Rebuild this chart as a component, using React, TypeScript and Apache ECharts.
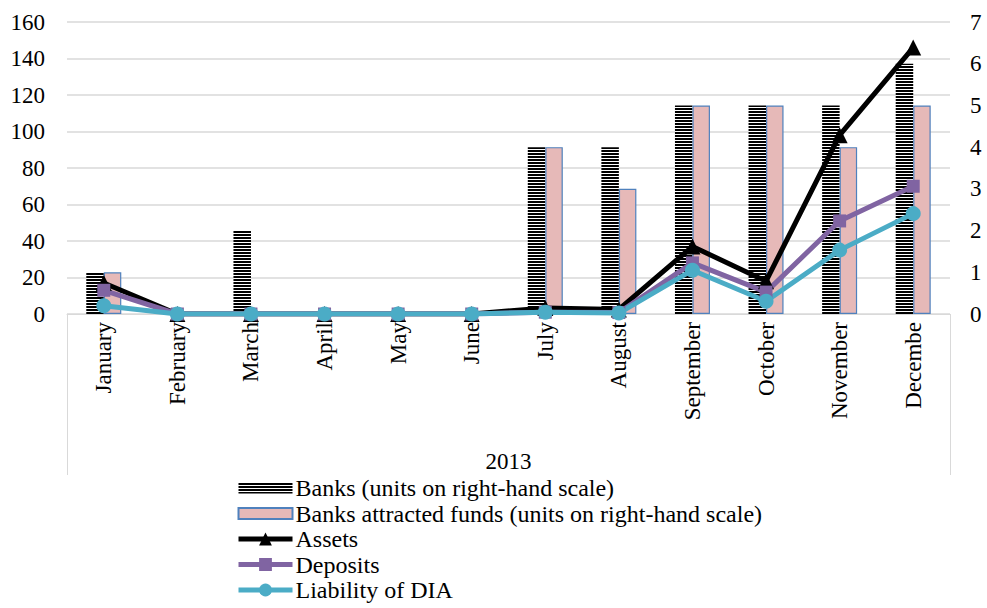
import React, { useEffect, useRef } from "react";
import * as echarts from "echarts";

const months = ["January", "February", "March", "April", "May", "June", "July", "August", "September", "October", "November", "Decembe"];
const yearLabel = ["2013"];
const banks = [1, 0, 2, 0, 0, 0, 4, 4, 5, 5, 5, 6];
const attractedFunds = [1, 0, 0, 0, 0, 0, 4, 3, 5, 5, 4, 5];
const assets = [17, 0, 0, 0, 0, 0, 3.3, 2.5, 37, 18, 98, 146];
const deposits = [13, 0, 0, 0, 0, 0, 1, 0.8, 28, 12, 51, 70];
const liabilityDIA = [4.5, 0, 0, 0, 0, 0, 1, 0.5, 24, 7, 35, 55];

const FONT = "Liberation Serif";
const BAR_ICON = "path://M0,0M0,2.5L55,2.5L55,13.5L0,13.5ZM55,16";

function makeHatch() {
  const c = document.createElement("canvas");
  c.width = 6;
  c.height = 3;
  const ctx = c.getContext("2d")!;
  ctx.fillStyle = "#ffffff";
  ctx.fillRect(0, 0, 6, 3);
  ctx.fillStyle = "#000000";
  ctx.fillRect(0, 0, 6, 2);
  return c;
}

export default function App() {
  const ref = useRef<HTMLDivElement>(null);
  useEffect(() => {
    if (!ref.current) return;
    const chart = echarts.init(ref.current, undefined, { renderer: "svg" });
    const hatch = makeHatch();
    chart.setOption({
      animation: false,
      backgroundColor: "#ffffff",
      textStyle: { fontFamily: FONT, color: "#000" },
      grid: { left: 67, right: 37, top: 22, bottom: 294, containLabel: false },
      legend: {
        orient: "vertical",
        left: 236,
        top: 476,
        height: 132,
        padding: 0,
        itemWidth: 54,
        itemHeight: 16,
        itemGap: 1.5,
        lineStyle: { width: 5 },
        textStyle: { fontFamily: FONT, fontSize: 24, color: "#000", lineHeight: 24, padding: [0, 0, 0, -2] },
        data: [
          { name: "Banks (units on right-hand scale)", icon: BAR_ICON },
          { name: "Banks attracted funds (units on right-hand scale)", icon: BAR_ICON },
          { name: "Assets" },
          { name: "Deposits" },
          { name: "Liability of DIA" },
        ],
      },
      xAxis: [
        {
          type: "category",
          data: months,
          boundaryGap: true,
          axisLine: { show: true, lineStyle: { color: "#d9d9d9", width: 1 } },
          axisTick: { show: false },
          axisLabel: { rotate: 90, margin: 8, fontSize: 23, color: "#000", fontFamily: FONT, interval: 0 },
        },
        {
          type: "category",
          data: yearLabel,
          position: "bottom",
          boundaryGap: true,
          axisLine: { show: false },
          axisTick: { show: true, length: 161, lineStyle: { color: "#d9d9d9", width: 1 } },
          axisLabel: { margin: 136, fontSize: 23, color: "#000", fontFamily: FONT },
        },
      ],
      yAxis: [
        {
          type: "value",
          min: 0,
          max: 160,
          interval: 20,
          axisLine: { show: false },
          axisTick: { show: false },
          splitLine: { lineStyle: { color: "#d9d9d9", width: 1.5 } },
          axisLabel: { margin: 22, fontSize: 23, color: "#000", fontFamily: FONT },
        },
        {
          type: "value",
          min: 0,
          max: 7,
          interval: 1,
          position: "right",
          axisLine: { show: false },
          axisTick: { show: false },
          splitLine: { show: false },
          axisLabel: { margin: 20, fontSize: 23, color: "#000", fontFamily: FONT },
        },
      ],
      series: [
        {
          name: "Banks (units on right-hand scale)",
          type: "bar",
          xAxisIndex: 0,
          yAxisIndex: 1,
          data: banks,
          barWidth: 17.5,
          barGap: "0%",
          itemStyle: { color: { image: hatch, repeat: "repeat" } },
        },
        {
          name: "Banks attracted funds (units on right-hand scale)",
          type: "bar",
          xAxisIndex: 0,
          yAxisIndex: 1,
          data: attractedFunds,
          barWidth: 17.5,
          barGap: "0%",
          itemStyle: { color: "#e6b9b8", borderColor: "#4f81bd", borderWidth: 1.2 },
        },
        {
          name: "Assets",
          type: "line",
          xAxisIndex: 0,
          yAxisIndex: 0,
          data: assets,
          symbol: "triangle",
          symbolSize: 16,
          lineStyle: { color: "#000000", width: 5 },
          itemStyle: { color: "#000000" },
        },
        {
          name: "Deposits",
          type: "line",
          xAxisIndex: 0,
          yAxisIndex: 0,
          data: deposits,
          symbol: "rect",
          symbolSize: 13,
          lineStyle: { color: "#8064a2", width: 5 },
          itemStyle: { color: "#8064a2" },
        },
        {
          name: "Liability of DIA",
          type: "line",
          xAxisIndex: 0,
          yAxisIndex: 0,
          data: liabilityDIA,
          symbol: "circle",
          symbolSize: 15,
          lineStyle: { color: "#4bacc6", width: 5 },
          itemStyle: { color: "#4bacc6" },
        },
      ],
    });
    return () => chart.dispose();
  }, []);
  return <div ref={ref} style={{ width: 987, height: 608, position: "absolute", left: 0, top: 0 }} />;
}
